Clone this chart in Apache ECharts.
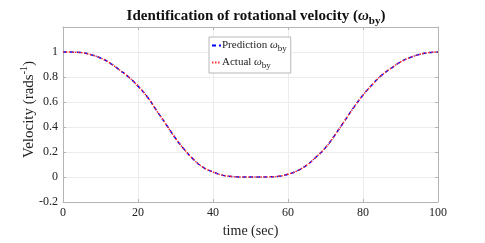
<!DOCTYPE html>
<html>
<head>
<meta charset="utf-8">
<script src="https://cdn.jsdelivr.net/npm/echarts@6/dist/echarts.min.js"></script>
<style>html,body{margin:0;padding:0;background:#fff;}#c{width:485px;height:243px;}</style>
</head>
<body>
<div id="c"></div>
<script>
const timeSec = [0,2.5,5,7.5,10,12.5,15,17.5,20,22.5,25,27.5,30,32.5,35,37.5,40,42.5,45,47.5,50,52.5,55,57.5,60,62.5,65,67.5,70,72.5,75,77.5,80,82.5,85,87.5,90,92.5,95,97.5,100];
const actual = [1.0,0.999,0.995,0.978,0.952,0.912,0.858,0.80,0.727,0.64,0.53,0.42,0.31,0.215,0.135,0.075,0.04,0.015,0.004,0.0,0.0,0.0,0.001,0.006,0.022,0.05,0.095,0.16,0.235,0.335,0.445,0.555,0.655,0.74,0.815,0.87,0.92,0.955,0.98,0.995,1.0];
const prediction = [1.0,0.999,0.995,0.978,0.952,0.912,0.858,0.80,0.727,0.64,0.53,0.42,0.31,0.215,0.135,0.075,0.04,0.015,0.004,0.0,0.0,0.0,0.001,0.006,0.022,0.05,0.095,0.16,0.235,0.335,0.445,0.555,0.655,0.74,0.815,0.87,0.92,0.955,0.98,0.995,1.0];
const xTicks = [0,20,40,60,80,100];
const yTicks = [-0.2,0,0.2,0.4,0.6,0.8,1];

const serif = '"Liberation Serif","DejaVu Serif",serif';
const axisCol = '#b4b4b4';
const gridCol = '#ececec';

const chart = echarts.init(document.getElementById('c'));
const pair = (xs, ys) => xs.map((x, i) => [x, ys[i]]);
const legendRich = {
  n: {fontFamily: serif, fontSize: 11, color: '#222'},
  w: {fontFamily: serif, fontSize: 11, fontStyle: 'italic', color: '#222'},
  s: {fontFamily: serif, fontSize: 9, color: '#222', padding: [6, 0, 0, 0]}
};
chart.setOption({
  animation: false,
  backgroundColor: '#fff',
  title: {
    text: '{a|Identification of rotational velocity (}{w|ω}{s|by}{a|)}',
    left: 251, top: 1, textAlign: 'center',
    textStyle: {
      rich: {
        a: {fontFamily: serif, fontSize: 15, fontWeight: 'bold', color: '#111'},
        w: {fontFamily: serif, fontSize: 15, fontStyle: 'italic', color: '#111'},
        s: {fontFamily: serif, fontSize: 11, fontWeight: 'bold', color: '#111', padding: [10, 0, 0, 0]}
      }
    }
  },
  legend: {
    orient: 'vertical', left: 209, top: 37,
    itemWidth: 9, itemHeight: 6, itemGap: 4,
    padding: [3, 4, 3, 2],
    backgroundColor: '#fff', borderColor: '#b8b8b8', borderWidth: 1,
    data: ['Prediction', 'Actual'],
    itemStyle: {opacity: 0},
    formatter: name => name === 'Prediction' ? '{n|Prediction }{w|ω}{s|by}' : '{n|Actual }{w|ω}{s|by}',
    textStyle: {rich: legendRich, padding: [0, 0, 0, -4]}
  },
  grid: {left: 63, right: 47, top: 27, bottom: 36},
  xAxis: [{
    type: 'value', min: 0, max: 100, interval: 20,
    name: 'time (sec)', nameLocation: 'middle', nameGap: 22, nameMoveOverlap: false,
    nameTextStyle: {fontFamily: serif, fontSize: 14, color: '#222'},
    axisLine: {onZero: false, lineStyle: {color: axisCol, width: 1}},
    axisTick: {inside: true, length: 3, lineStyle: {color: axisCol}},
    axisLabel: {fontFamily: serif, fontSize: 12, color: '#222', margin: 5},
    splitLine: {show: true, lineStyle: {color: gridCol}}
  }, {
    type: 'value', min: 0, max: 100, interval: 20, position: 'top',
    axisLine: {show: true, onZero: false, lineStyle: {color: axisCol}},
    axisTick: {inside: true, length: 3, lineStyle: {color: axisCol}},
    axisLabel: {show: false}, splitLine: {show: false}
  }],
  yAxis: [{
    type: 'value', min: -0.2, max: 1.2, interval: 0.2,
    name: '{a|Velocity (rads}{e|-1}{a|)}', nameLocation: 'middle', nameGap: 24, nameMoveOverlap: false,
    nameTextStyle: {padding: [0, 0, 0, 10], rich: {
      a: {fontFamily: serif, fontSize: 15, color: '#222'},
      e: {fontFamily: serif, fontSize: 10, color: '#222', padding: [0, 0, 10, 0]}
    }},
    axisLine: {show: true, onZero: false, lineStyle: {color: axisCol, width: 1}},
    axisTick: {inside: true, length: 3, lineStyle: {color: axisCol}},
    axisLabel: {fontFamily: serif, fontSize: 12, color: '#222', margin: 5,
      formatter: v => {
        const r = Math.round(v * 10) / 10;
        return yTicks.some(t => Math.abs(t - r) < 1e-6) ? String(r) : '';
      }},
    splitLine: {show: true, lineStyle: {color: gridCol}}
  }, {
    type: 'value', min: -0.2, max: 1.2, interval: 0.2, position: 'right',
    axisLine: {show: true, onZero: false, lineStyle: {color: axisCol}},
    axisTick: {inside: true, length: 3, lineStyle: {color: axisCol}},
    axisLabel: {show: false}, splitLine: {show: false}
  }],
  series: [{
    name: 'Prediction', type: 'line', smooth: true, symbol: 'none',
    data: pair(timeSec, prediction),
    itemStyle: {color: '#0000ff'},
    lineStyle: {color: '#0000ff', width: 1.5, type: [4, 3]}
  }, {
    name: 'Actual', type: 'line', smooth: true, symbol: 'none',
    data: pair(timeSec, actual),
    itemStyle: {color: '#ff0000'},
    lineStyle: {color: '#ff3030', width: 1.5, type: [1.5, 1.5]}
  }]
});
</script>
</body>
</html>
